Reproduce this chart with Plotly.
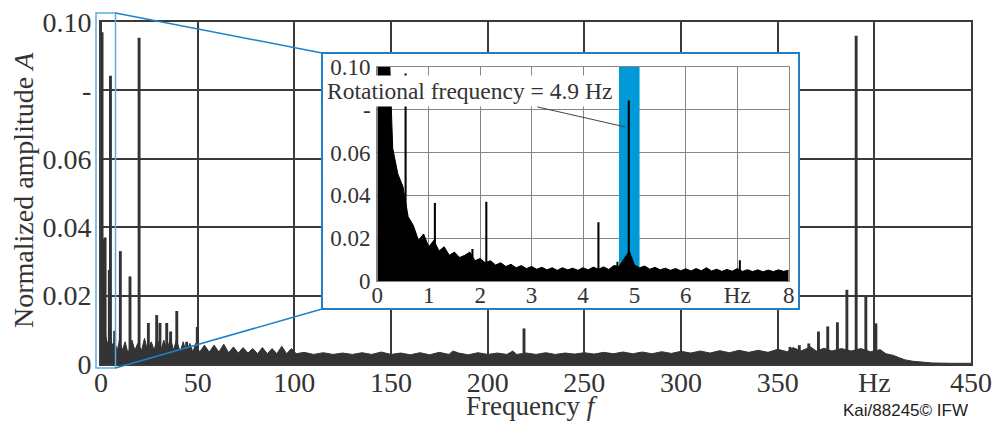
import plotly.graph_objects as go

# ---------------- data ----------------
# inset spectrum 0-8 Hz: noise floor envelope and discrete peaks
inset_floor_f = [0.0, 0.1, 0.2, 0.3, 0.4, 0.5, 0.6, 0.7, 0.8, 0.9,
                 1.0, 1.1, 1.2, 1.3, 1.4, 1.5, 1.6, 1.7, 1.8, 1.9,
                 2.0, 2.1, 2.2, 2.3, 2.4, 2.5, 2.6, 2.7, 2.8, 2.9,
                 3.0, 3.1, 3.2, 3.3, 3.4, 3.5, 3.6, 3.7, 3.8, 3.9,
                 4.0, 4.1, 4.2, 4.3, 4.4, 4.5, 4.6, 4.7, 4.8, 4.9,
                 5.0, 5.1, 5.2, 5.3, 5.4, 5.5, 5.6, 5.7, 5.8, 5.9,
                 6.0, 6.1, 6.2, 6.3, 6.4, 6.5, 6.6, 6.7, 6.8, 6.9,
                 7.0, 7.1, 7.2, 7.3, 7.4, 7.5, 7.6, 7.7, 7.8, 7.9, 8.0]
inset_floor_a = [0.13, 0.13, 0.13, 0.062, 0.05, 0.044, 0.03, 0.026, 0.019, 0.022,
                 0.016, 0.019, 0.014, 0.016, 0.012, 0.0135, 0.011, 0.012, 0.0135, 0.0095,
                 0.0105, 0.0085, 0.0095, 0.0075, 0.0085, 0.0068, 0.0078, 0.0062, 0.0072, 0.0058,
                 0.0068, 0.0055, 0.0064, 0.0052, 0.0062, 0.005, 0.0062, 0.0052, 0.006, 0.005,
                 0.0062, 0.0052, 0.0065, 0.0055, 0.0066, 0.0054, 0.0072, 0.0068, 0.0105, 0.014,
                 0.0075, 0.0062, 0.007, 0.0055, 0.0064, 0.0052, 0.006, 0.005, 0.0058, 0.0048,
                 0.0057, 0.0047, 0.0058, 0.0048, 0.0062, 0.0047, 0.0055, 0.0045, 0.0054, 0.0046,
                 0.0058, 0.0045, 0.0053, 0.0044, 0.0052, 0.0043, 0.0051, 0.0044, 0.0052, 0.0045, 0.005]
inset_peak_f = [0.55, 1.12, 1.85, 2.12, 4.30, 4.67, 4.89, 7.05]
inset_peak_a = [0.097, 0.0365, 0.015, 0.037, 0.0275, 0.009, 0.0843, 0.0097]

# main spectrum 8-450 Hz
main_floor_f = [8.5, 9.5, 11, 12.5, 14, 16, 17.5, 19, 21, 22.5, 24, 26, 27.5, 29, 31,
                32.5, 34, 36, 37.5, 39, 41, 42.5, 44, 46, 47.5, 49, 51, 53.5, 56, 58.5,
                61, 63.5, 66, 68.5, 71, 73.5, 76, 78.5, 81, 83.5, 86, 88.5, 91, 93.5, 96,
                98.5, 101, 105, 110, 115, 120, 125, 130, 135, 140, 145, 150, 155, 160, 165,
                170, 175, 180, 182, 185, 190, 195, 200, 205, 210, 213, 215, 220, 225, 230,
                235, 240, 245, 250, 255, 260, 265, 270, 275, 280, 285, 290, 295, 300, 305,
                310, 315, 320, 325, 330, 335, 340, 345, 350, 355, 358, 362, 367, 370, 374,
                378, 383, 388, 393, 398, 403, 406, 410, 413, 416, 420, 425, 430, 440, 450]
main_floor_a = [0.004, 0.007, 0.004, 0.0065, 0.003, 0.007, 0.004, 0.006, 0.004, 0.0075,
                0.004, 0.0065, 0.004, 0.0075, 0.004, 0.007, 0.004, 0.0075, 0.004, 0.007,
                0.0035, 0.0065, 0.0035, 0.006, 0.0035, 0.006, 0.0035, 0.0055, 0.0035, 0.0055,
                0.0035, 0.0058, 0.0033, 0.005, 0.0032, 0.0048, 0.0032, 0.0045, 0.003, 0.0048,
                0.003, 0.0045, 0.003, 0.0052, 0.003, 0.0045, 0.003, 0.0034, 0.0028, 0.0033,
                0.0028, 0.0032, 0.0028, 0.0033, 0.0028, 0.0035, 0.0028, 0.0032, 0.0027, 0.0033,
                0.0027, 0.0034, 0.0028, 0.0038, 0.0032, 0.0027, 0.0033, 0.0028, 0.0032, 0.0028,
                0.0038, 0.0028, 0.0032, 0.0028, 0.0033, 0.0028, 0.0032, 0.0029, 0.0033, 0.0029,
                0.0034, 0.003, 0.0035, 0.003, 0.0035, 0.003, 0.0036, 0.0031, 0.0037, 0.0032,
                0.0038, 0.0032, 0.0039, 0.0033, 0.004, 0.0034, 0.004, 0.0034, 0.0043, 0.0036,
                0.0048, 0.0038, 0.005, 0.0038, 0.0046, 0.0038, 0.0045, 0.0038, 0.0045, 0.0036,
                0.0042, 0.003, 0.0025, 0.0018, 0.0012, 0.0008, 0.0005, 0.0003, 0.0002, 0.0002]
main_peak_f = [10.0, 15.0, 19.7, 24.5, 28.8, 30.5, 34.0, 36.0, 39.2, 44.3, 49.8,
               218.8, 356.4, 361.2, 366.1, 371.1, 375.9, 380.9, 385.8, 390.6, 395.6, 400.8]
main_peak_a = [0.033, 0.0256, 0.0954, 0.012, 0.0143, 0.012, 0.012, 0.0095, 0.0155, 0.0065, 0.0108,
               0.0104, 0.005, 0.0055, 0.006, 0.0095, 0.011, 0.0122, 0.0217, 0.096, 0.0197, 0.0119]

main_xticks = [0, 50, 100, 150, 200, 250, 300, 350, 400, 450]
main_xtext = ["0", "50", "100", "150", "200", "250", "300", "350", "Hz", "450"]
inset_xticks = [0, 1, 2, 3, 4, 5, 6, 7, 8]
inset_xtext = ["0", "1", "2", "3", "4", "5", "6", "Hz", "8"]
yticks = [0, 0.02, 0.04, 0.06, 0.08, 0.10]
ytext = ["0", "0.02", "0.04", "0.06", "-", "0.10"]

rot_freq_band = [4.7, 5.1]
rot_label = "Rotational frequency = 4.9 Hz"

# ---------------- layout geometry (pixels) ----------------
W, H = 994, 421
L, R, T, B = 101, 23, 22, 57
PW, PH = W - L - R, H - T - B
XMAX, YMAX = 450, 0.10


def pxx(p):
    return (p - L) / PW


def pxy(p):
    return (H - B - p) / PH


SERIF = "Liberation Serif"
MAIN_COL = "#333333"
BLUE = "#0099D8"
LINE_BLUE = "#1F80C8"

box_x0, box_x1, box_y0, box_y1 = pxx(322), pxx(799), pxy(309), pxy(53)

fig = go.Figure()

# main spectrum
fig.add_trace(go.Bar(x=inset_peak_f + main_peak_f, y=inset_peak_a + main_peak_a,
                     width=1.5, marker=dict(color=MAIN_COL, line=dict(width=0)),
                     xaxis="x", yaxis="y", showlegend=False, hoverinfo="skip"))
fig.add_trace(go.Scatter(x=inset_floor_f + main_floor_f, y=inset_floor_a + main_floor_a,
                         mode="lines", line=dict(color=MAIN_COL, width=1),
                         fill="tozeroy", fillcolor=MAIN_COL,
                         xaxis="x", yaxis="y", showlegend=False, hoverinfo="skip"))
# white background of the inset (covers main plot underneath)
bx = [box_x0 * XMAX, box_x1 * XMAX, box_x1 * XMAX, box_x0 * XMAX, box_x0 * XMAX]
by = [box_y0 * YMAX, box_y0 * YMAX, box_y1 * YMAX, box_y1 * YMAX, box_y0 * YMAX]
fig.add_trace(go.Scatter(x=bx, y=by, mode="lines", line=dict(width=0),
                         fill="toself", fillcolor="white",
                         xaxis="x", yaxis="y", showlegend=False, hoverinfo="skip"))

# inset spectrum
fig.add_trace(go.Bar(x=inset_peak_f, y=inset_peak_a, width=0.04,
                     marker=dict(color="black", line=dict(width=0)),
                     xaxis="x2", yaxis="y2", showlegend=False, hoverinfo="skip"))
fig.add_trace(go.Scatter(x=inset_floor_f, y=inset_floor_a, mode="lines",
                         line=dict(color="black", width=1),
                         fill="tozeroy", fillcolor="black",
                         xaxis="x2", yaxis="y2", showlegend=False, hoverinfo="skip"))

axis_common = dict(showline=True, mirror=True, zeroline=False, ticks="",
                   automargin=False)

fig.update_layout(
    template="none",
    width=W, height=H,
    margin=dict(l=L, r=R, t=T, b=B, pad=0, autoexpand=False),
    paper_bgcolor="white", plot_bgcolor="white",
    barmode="overlay", showlegend=False,
    font=dict(family=SERIF, color=MAIN_COL),
    xaxis=dict(range=[0, XMAX], tickvals=main_xticks, ticktext=main_xtext,
               tickfont=dict(size=28, family=SERIF, color=MAIN_COL), ticklabelstandoff=-8,
               showgrid=True, gridcolor="#3a3a3a", gridwidth=2,
               linecolor="#3a3a3a", linewidth=2, domain=[0, 1], **axis_common),
    yaxis=dict(range=[0, YMAX], tickvals=yticks, ticktext=ytext,
               tickfont=dict(size=28, family=SERIF, color=MAIN_COL), ticklabelstandoff=2,
               showgrid=True, gridcolor="#3a3a3a", gridwidth=2,
               linecolor="#3a3a3a", linewidth=2, domain=[0, 1], **axis_common),
    xaxis2=dict(range=[0, 8], tickvals=inset_xticks, ticktext=inset_xtext,
                tickfont=dict(size=23, family=SERIF, color=MAIN_COL), ticklabelstandoff=-7,
                showgrid=True, gridcolor="#858585", gridwidth=1.3,
                linecolor="#858585", linewidth=1.3,
                domain=[pxx(377.3), pxx(788.7)], anchor="y2", **axis_common),
    yaxis2=dict(range=[0, YMAX], tickvals=yticks, ticktext=ytext,
                tickfont=dict(size=23, family=SERIF, color=MAIN_COL), ticklabelstandoff=1,
                showgrid=True, gridcolor="#858585", gridwidth=1.3,
                linecolor="#858585", linewidth=1.3,
                domain=[pxy(281), pxy(67)], anchor="x2", **axis_common),
)

shapes = [
    # rotational frequency band in the inset
    dict(type="rect", xref="x2", yref="y2", x0=rot_freq_band[0], x1=rot_freq_band[1],
         y0=0, y1=YMAX, fillcolor=BLUE, line=dict(width=0), layer="between"),
    # inset frame
    dict(type="rect", xref="paper", yref="paper", x0=box_x0, x1=box_x1, y0=box_y0, y1=box_y1,
         line=dict(color=LINE_BLUE, width=2), fillcolor="rgba(0,0,0,0)", layer="above"),
    # zoom region on the main plot
    dict(type="rect", xref="paper", yref="paper", x0=pxx(96), x1=pxx(115.5),
         y0=pxy(368), y1=pxy(13), line=dict(color="#5AAEE2", width=1.5),
         fillcolor="rgba(0,0,0,0)", layer="above"),
    dict(type="line", xref="paper", yref="paper", x0=pxx(115.5), y0=pxy(13),
         x1=box_x0, y1=box_y1, line=dict(color=LINE_BLUE, width=1.5), layer="above"),
    dict(type="line", xref="paper", yref="paper", x0=pxx(115.5), y0=pxy(368),
         x1=box_x0, y1=box_y0, line=dict(color=LINE_BLUE, width=1.5), layer="above"),
]
fig.update_layout(shapes=shapes)

annotations = [
    dict(text=rot_label, xref="x2", yref="y2", x=4.82, y=0.072,
         showarrow=True, arrowhead=0, arrowwidth=1, arrowcolor="#444",
         ax=-156, ay=-35.5, bgcolor="white", borderpad=2,
         font=dict(size=23.5, family=SERIF, color=MAIN_COL)),
    dict(text="Normalized amplitude <i>A</i>", xref="paper", yref="paper",
         x=pxx(23), y=pxy(190), textangle=-90, showarrow=False,
         xanchor="center", yanchor="middle",
         font=dict(size=28, family=SERIF, color=MAIN_COL)),
    dict(text="Frequency <i>f</i>", xref="paper", yref="paper",
         x=pxx(532), y=pxy(406), showarrow=False, xanchor="center", yanchor="middle",
         font=dict(size=27, family=SERIF, color=MAIN_COL)),
    dict(text="Kai/88245© IFW", xref="paper", yref="paper",
         x=pxx(905), y=pxy(410), showarrow=False, xanchor="center", yanchor="middle",
         font=dict(size=17, family="Liberation Sans", color="#222")),
]
fig.update_layout(annotations=annotations)

fig.write_html("out.html", config={"displayModeBar": False},
               post_script="document.body.style.margin='0';document.body.style.overflow='hidden';")
